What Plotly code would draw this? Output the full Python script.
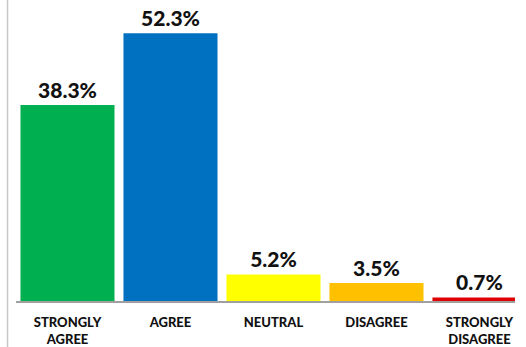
import plotly.graph_objects as go

categories = ["STRONGLY<br>AGREE", "AGREE", "NEUTRAL", "DISAGREE", "STRONGLY<br>DISAGREE"]
values = [38.3, 52.3, 5.2, 3.5, 0.7]
labels = ["38.3%", "52.3%", "5.2%", "3.5%", "0.7%"]
colors = ["#00B050", "#0070C0", "#FFFF00", "#FFC000", "#E00000"]

fig = go.Figure(go.Bar(
    x=categories, y=values, marker=dict(color=colors, line=dict(width=0)),
    text=labels, textposition="outside", cliponaxis=True,
    textfont=dict(family="Lato", size=21, color="#111111", weight=900),
))
fig.update_layout(
    width=526, height=347, margin=dict(l=16, r=11, t=1, b=46),
    plot_bgcolor="white", paper_bgcolor="white", bargap=0.087, showlegend=False,
    xaxis=dict(showline=True, linecolor="#A0A0A0", linewidth=2, ticks="",
               range=[-0.5, 4.345],
               ticklabelstandoff=8, automargin=False,
               tickfont=dict(family="Lato", size=13, color="#111111", weight=900)),
    yaxis=dict(range=[0, 58.6], visible=False, showgrid=False, automargin=False),
    shapes=[dict(type="line", xref="paper", yref="paper", x0=-0.017, x1=-0.017, y0=-0.2, y1=1.05,
                 line=dict(color="#C8C8C8", width=1.5))],
)
fig.write_html("out.html")
